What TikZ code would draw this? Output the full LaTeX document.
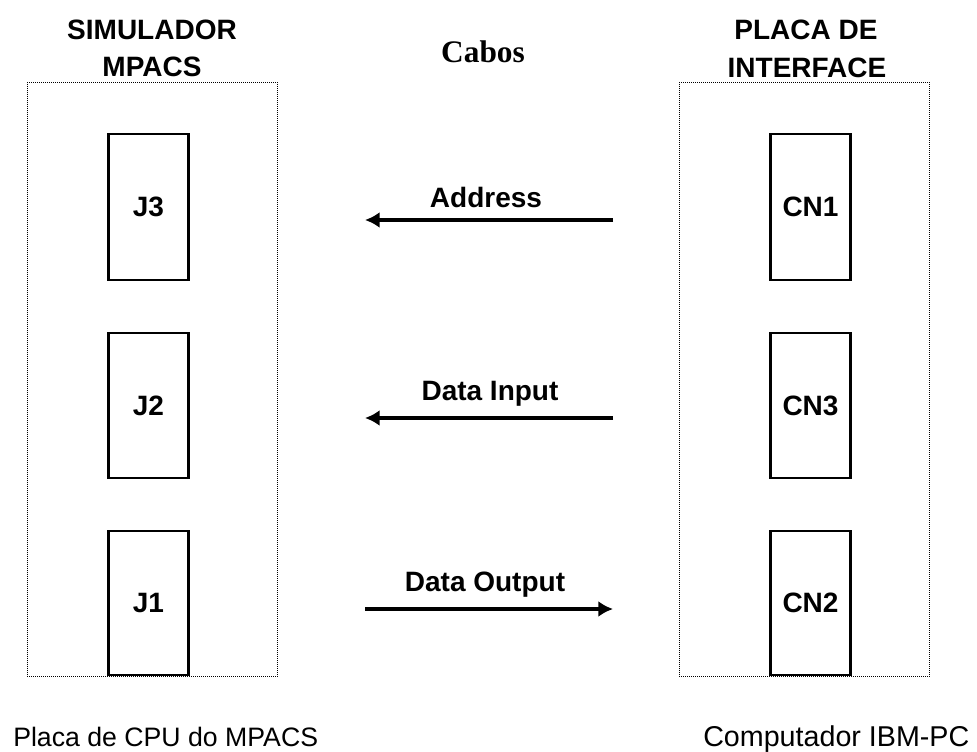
\documentclass[tikz,border=0pt]{standalone}
\usepackage{fontspec}
\setmainfont{Liberation Sans}
\newfontfamily\serifbold{Liberation Serif}
\usetikzlibrary{arrows.meta}
\begin{document}
\begin{tikzpicture}[x=0.75pt,y=-0.75pt,
  outerbox/.style={draw, line width=0.75pt, dash pattern=on 0.75pt off 0.75pt, inner sep=0pt, minimum width=187.5pt, minimum height=446pt},
  conbox/.style={draw, line width=1.6pt, inner sep=0pt, minimum width=60pt, minimum height=109pt, font=\fontsize{21}{24}\selectfont\bfseries},
  title/.style={font=\fontsize{21}{24}\selectfont\bfseries, inner sep=0pt},
  lbl/.style={font=\fontsize{21}{24}\selectfont\bfseries, inner sep=0pt},
  cable/.style={line width=2.6pt, -{Latex[length=11pt,width=12pt]}},
  caption/.style={inner sep=0pt, anchor=base west}
]
\useasboundingbox (0,0) rectangle (977,752);
% outer dotted boxes
\node[outerbox] (left) at (152,379.5) {};
\node[outerbox] (right) at (804,379.5) {};
% titles
\node[title] (t1) at (152,30) {SIMULADOR};
\node[title] (t2) at (152,67) {MPACS};
\node[title] (t3) at (806,30) {PLACA DE};
\node[title] (t4) at (807,68) {INTERFACE};
\node[font=\fontsize{23.5}{26}\selectfont\serifbold\bfseries, inner sep=0pt] (cabos) at (483,52) {Cabos};
% connector boxes
\node[conbox] (J3) at (148.5,207) {J3};
\node[conbox] (J2) at (148.5,405.5) {J2};
\node[conbox, minimum height=108pt] (J1) at (148.5,603) {J1};
\node[conbox] (CN1) at (810.5,207) {CN1};
\node[conbox] (CN3) at (810.5,405.5) {CN3};
\node[conbox, minimum height=108pt] (CN2) at (810.5,603) {CN2};
% cables
\coordinate (a1) at (613,220); \coordinate (a2) at (365,220);
\coordinate (b1) at (613,418); \coordinate (b2) at (365,418);
\coordinate (c1) at (365,609); \coordinate (c2) at (613,609);
\draw[cable] (a1) -- (a2);
\draw[cable] (b1) -- (b2);
\draw[cable] (c1) -- (c2);
\node[lbl] (la) at (486,197) {Address};
\node[lbl] (lb) at (490,394) {Data Input};
\node[lbl] (lc) at (485,585) {Data Output};
% captions
\node[caption, font=\fontsize{20}{24}\selectfont] (cap1) at (13,746) {Placa de CPU do MPACS};
\node[caption, font=\fontsize{21.5}{24}\selectfont] (cap2) at (703,746) {Computador IBM-PC};
\end{tikzpicture}
\end{document}
